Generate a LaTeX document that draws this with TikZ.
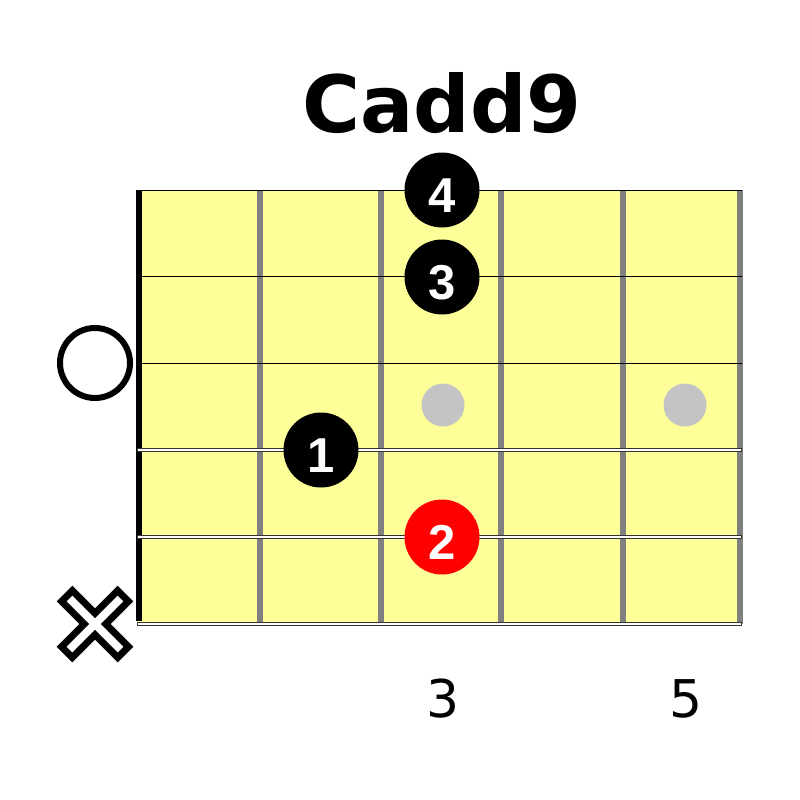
\documentclass[tikz,border=0pt]{standalone}
\usepackage{fontspec}
\setmainfont{DejaVu Sans}
\newfontfamily\digitfont{Liberation Sans}
\definecolor{board}{HTML}{FFFF99}
\definecolor{fretgray}{HTML}{808080}
\definecolor{inlay}{HTML}{C4C4C4}
\definecolor{woundedge}{HTML}{333333}
\begin{document}
\begin{tikzpicture}[x=1pt,y=-1pt,
  fretline/.style={draw=fretgray,line width=6pt},
  plainstring/.style={draw=black,line width=1pt},
  fingerdot/.style={circle,fill=black,minimum size=75pt,inner sep=0pt},
  fingerlabel/.style={anchor=base,text=white,font=\digitfont\fontsize{49}{49}\selectfont\bfseries},
  inlaydot/.style={circle,fill=inlay,minimum size=43pt,inner sep=0pt},
  fretnum/.style={font=\fontsize{52}{52}\selectfont}]
\useasboundingbox (0,0) rectangle (800,800);
% title
\node[font=\fontsize{79}{79}\selectfont\bfseries,anchor=base] (title) at (442,132) {Cadd9};
% board
\fill[board] (137,190) rectangle (742,624);
% frets
\foreach \fx in {260,381,501,623,740}{
  \draw[fretline] (\fx,190) -- (\fx,624);
}
% nut
\fill[black] (136,190) rectangle (142,621);
% inlays
\node[inlaydot] (inlayA) at (443,405) {};
\node[inlaydot] (inlayB) at (685,405) {};
% plain strings
\foreach \sy in {190.5,276.5,363.5}{
  \draw[plainstring] (137,\sy) -- (742,\sy);
}
% wound strings
\draw[draw=woundedge,line width=3.4pt] (137,450) -- (742,450);
\draw[draw=white,line width=1.6pt] (137.8,450) -- (741.2,450);
\draw[draw=woundedge,line width=3.8pt] (137,537) -- (742,537);
\draw[draw=white,line width=1.9pt] (137.8,537) -- (741.2,537);
\draw[draw=woundedge,line width=4.4pt] (137,624) -- (742,624);
\draw[draw=white,line width=2.4pt] (137.8,624) -- (741.2,624);
% fingers
\node[fingerdot] (f4) at (442,190) {};
\node[fingerdot] (f3) at (442,277) {};
\node[fingerdot] (f1) at (321,450) {};
\node[fingerdot,fill=red] (f2) at (442,537) {};
\node[fingerlabel] (l4) at (442,212) {4};
\node[fingerlabel] (l3) at (442,299) {3};
\node[fingerlabel] (l1) at (321,472) {1};
\node[fingerlabel] (l2) at (442,559) {2};
% open string marker
\draw[black,line width=6pt] (95,363) circle (35);
% muted string marker
\coordinate (xc) at (95,624);
\draw[black,line width=22pt] (64.5,593.5) -- (125.5,654.5);
\draw[black,line width=22pt] (125.5,593.5) -- (64.5,654.5);
\draw[white,line width=8pt] (69.5,598.5) -- (120.5,649.5);
\draw[white,line width=8pt] (120.5,598.5) -- (69.5,649.5);
% fret numbers
\node[fretnum,anchor=base] (n3) at (443,717) {3};
\node[fretnum,anchor=base] (n5) at (686,717) {5};
\end{tikzpicture}
\end{document}
